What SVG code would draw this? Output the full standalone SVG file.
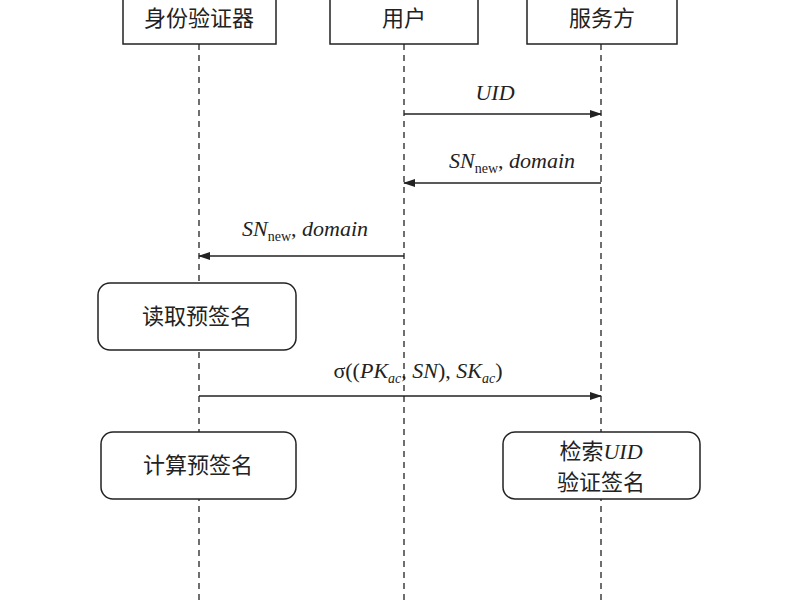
<svg xmlns="http://www.w3.org/2000/svg" width="800" height="600" viewBox="0 0 800 600">
<defs>
<style>
.box{fill:#fff;stroke:#222;stroke-width:1.5}
.life{stroke:#222;stroke-width:1.3;stroke-dasharray:6,5}
.msg{stroke:#222;stroke-width:1.3;fill:none;marker-end:url(#ah)}
.t{font-family:"Noto Sans CJK SC","Liberation Serif",serif;font-size:22px;fill:#222;text-anchor:middle}
.m{font-family:"Liberation Serif",serif;font-size:22px;font-style:italic;fill:#222;text-anchor:middle}
.sub{font-size:14px}
</style>
<marker id="ah" markerWidth="12" markerHeight="8" refX="11" refY="4" orient="auto" markerUnits="userSpaceOnUse"><path d="M0,0 L12,4 L0,8 Z" fill="#222"/></marker>
</defs>
<rect width="800" height="600" fill="#fff"/>
<g id="lifelines">
<line class="life" x1="199" y1="44" x2="199" y2="600"/>
<line class="life" x1="404" y1="44" x2="404" y2="600"/>
<line class="life" x1="601" y1="44" x2="601" y2="600"/>
</g>
<g id="auth"><rect class="box" x="123" y="-10" width="153" height="54"/><text class="t" x="199" y="26">身份验证器</text></g>
<g id="user"><rect class="box" x="330" y="-10" width="148" height="54"/><text class="t" x="404" y="26">用户</text></g>
<g id="server"><rect class="box" x="527" y="-10" width="150" height="54"/><text class="t" x="602" y="26">服务方</text></g>
<g id="connectors">
<line class="msg" x1="404" y1="114" x2="601" y2="114"/>
<text class="m" x="495" y="100">UID</text>
<line class="msg" x1="601" y1="183" x2="404" y2="183"/>
<text class="m" x="512" y="168">SN<tspan class="sub" font-style="normal" dy="5">new</tspan><tspan dy="-5" font-style="normal">, </tspan>domain</text>
<line class="msg" x1="404" y1="256" x2="199" y2="256"/>
<text class="m" x="305" y="236">SN<tspan class="sub" font-style="normal" dy="5">new</tspan><tspan dy="-5" font-style="normal">, </tspan>domain</text>
<line class="msg" x1="199" y1="396" x2="601" y2="396"/>
<text class="m" x="418" y="378"><tspan font-style="normal">σ((</tspan>PK<tspan class="sub" dy="5">ac</tspan><tspan dy="-5" font-style="normal">, </tspan>SN<tspan font-style="normal">), </tspan>SK<tspan class="sub" dy="5">ac</tspan><tspan dy="-5" font-style="normal">)</tspan></text>
</g>
<g id="read"><rect class="box" x="98" y="283" width="198" height="67" rx="12"/><text class="t" x="197" y="324">读取预签名</text></g>
<g id="compute"><rect class="box" x="101" y="432" width="195" height="67" rx="12"/><text class="t" x="198" y="473">计算预签名</text></g>
<g id="verify"><rect class="box" x="503" y="432" width="197" height="67" rx="12"/><text class="t" x="601" y="459">检索<tspan font-family="Liberation Serif" font-style="italic">UID</tspan></text><text class="t" x="601" y="490">验证签名</text></g>
</svg>
